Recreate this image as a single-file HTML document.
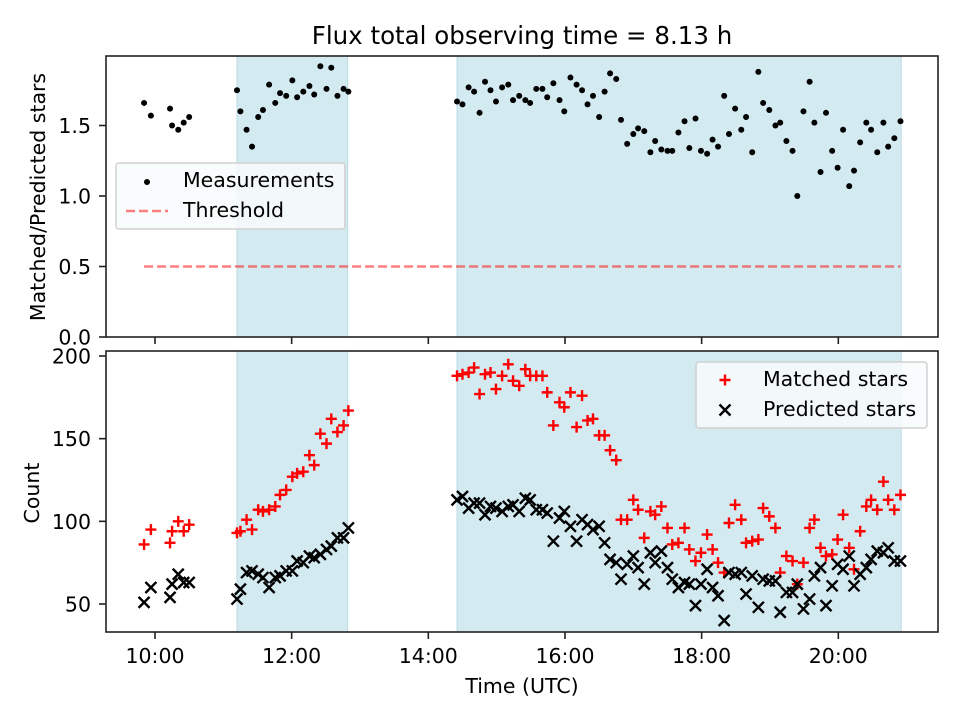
<!DOCTYPE html>
<html><head><meta charset="utf-8"><style>
body{margin:0;background:#fff}
svg text{font-family:"DejaVu Sans","Liberation Sans",sans-serif;fill:#000}
</style></head><body>
<svg id="chart" width="960" height="720" viewBox="0 0 960 720"></svg>
<script>
const times1=[9.84,9.94,10.22,10.25,10.34,10.42,10.50,
11.20,11.25,11.34,11.42,11.51,11.58,11.67,11.76,11.83,11.92,12.01,12.08,12.17,12.26,12.33,12.42,12.51,12.58,12.67,12.76,12.83,
14.42,14.50,14.59,14.67,14.75,14.83,14.91,14.99,15.08,15.17,15.24,15.33,15.42,15.49,15.58,15.67,15.74,15.83,15.92,15.99,
16.08,16.17,16.25,16.33,16.41,16.50,16.58,16.66,16.75,16.82,16.91,17.00,17.07,17.16,17.25,17.32,17.41,17.50,17.57,17.66,
17.75,17.82,17.91,17.99,18.08,18.16,18.24,18.33,18.40,18.49,18.58,18.65,18.74,18.83,18.90,18.99,19.08,19.15,19.24,19.33,
19.40,19.49,19.58,19.65,19.74,19.82,19.91,19.99,20.07,20.16,20.23,20.32,20.41,20.48,20.57,20.66,20.73,20.82,20.91];
const ratioValues=[1.66,1.57,1.62,1.50,1.47,1.52,1.56,
1.75,1.60,1.47,1.35,1.56,1.61,1.79,1.66,1.73,1.71,1.82,1.70,1.74,1.78,1.72,1.92,1.76,1.91,1.71,1.76,1.74,
1.67,1.65,1.77,1.74,1.59,1.81,1.75,1.67,1.77,1.79,1.68,1.71,1.68,1.66,1.76,1.76,1.70,1.80,1.68,1.60,
1.84,1.79,1.75,1.65,1.71,1.56,1.74,1.87,1.83,1.54,1.37,1.44,1.48,1.46,1.31,1.39,1.33,1.32,1.32,1.45,
1.53,1.34,1.55,1.32,1.30,1.40,1.35,1.71,1.44,1.62,1.47,1.56,1.31,1.88,1.66,1.61,1.50,1.52,1.39,1.32,
1.00,1.60,1.81,1.52,1.17,1.59,1.32,1.20,1.47,1.07,1.18,1.38,1.52,1.47,1.31,1.52,1.35,1.41,1.53];
const matchedValues=[86,95,87,94,100,94,98,
93,94,101,95,107,106,107,109,116,119,127,129,130,140,134,153,147,162,154,158,167,
188,189,190,193,177,189,190,180,188,195,185,182,192,188,188,188,178,158,172,169,
178,157,176,161,162,152,152,143,137,101,101,113,107,90,106,104,109,96,86,87,
96,83,76,81,92,83,75,69,99,110,101,87,88,89,108,103,96,69,79,76,
62,75,96,101,84,79,80,89,104,84,71,94,109,113,107,124,113,107,116];
const predictedValues=[51,60,54,62,68,63,63,
53,59,69,70,68,66,60,66,67,70,70,76,75,79,78,80,83,85,90,90,96,
113,115,108,111,111,104,109,108,106,109,110,106,114,113,107,107,105,88,102,106,
97,88,101,98,95,97,87,77,75,65,74,79,72,62,81,75,82,72,65,60,
63,62,49,62,71,60,55,40,69,68,69,56,67,48,65,64,64,45,57,57,
62,47,53,67,72,49,61,74,71,79,61,68,72,77,82,81,84,76,76];
const shadeSpans=[[11.2,12.82],[14.42,20.92]];
const xTicks=[10,12,14,16,18,20];
const xTickLabels=["10:00","12:00","14:00","16:00","18:00","20:00"];
const topYTicks=[0,0.5,1.0,1.5];
const topYTickLabels=["0.0","0.5","1.0","1.5"];
const botYTicks=[50,100,150,200];
const botYTickLabels=["50","100","150","200"];
const thresholdValue=0.5;

const NS="http://www.w3.org/2000/svg";
const svg=document.getElementById('chart');
function mk(tag,attrs,parent){const e=document.createElementNS(NS,tag);for(const k in attrs)e.setAttribute(k,attrs[k]);(parent||svg).appendChild(e);return e;}
const L=106,R=938;
const xS=t=>155+(t-10)*68.33;
const yTop=v=>337-v*141;
const yBot=v=>604-(v-50)*1.6533;
const T1=56,B1=337,T2=351,B2=632;
const FS=20.5;

[[T1,B1],[T2,B2]].forEach(([t,b],pi)=>{
  shadeSpans.forEach((s,i)=>{
    const r=mk('rect',{x:xS(s[0]),y:t,width:xS(s[1])-xS(s[0]),height:b-t,fill:'#d4eaf1',stroke:'#bcdbe4','stroke-width':1});
    
    
  });
});
const th=mk('line',{x1:xS(times1[0]),x2:xS(times1[times1.length-1]),y1:yTop(thresholdValue),y2:yTop(thresholdValue),stroke:'#ff0000','stroke-opacity':0.5,'stroke-width':2.5,'stroke-dasharray':'9,4'});


times1.forEach((t,i)=>{
  const c=mk('circle',{cx:xS(t),cy:yTop(ratioValues[i]),r:3,fill:'#000'});
  
  
});
times1.forEach((t,i)=>{
  const x=xS(t),y=yBot(matchedValues[i]);
  const p=mk('path',{d:`M${x-5.5},${y}H${x+5.5}M${x},${y-5.5}V${y+5.5}`,stroke:'#ff0000','stroke-width':2.4,fill:'none'});
  
  
});
times1.forEach((t,i)=>{
  const x=xS(t),y=yBot(predictedValues[i]);
  const p=mk('path',{d:`M${x-5.5},${y-5.5}L${x+5.5},${y+5.5}M${x-5.5},${y+5.5}L${x+5.5},${y-5.5}`,stroke:'#000','stroke-width':2.4,fill:'none'});
  
  
});
[[T1,B1,'top'],[T2,B2,'bottom']].forEach(([t,b,n])=>{
  const f=mk('rect',{x:L,y:t,width:R-L,height:b-t,fill:'none',stroke:'#222','stroke-width':1.6});
  
  
  xTicks.forEach((v,i)=>{
    mk('line',{x1:xS(v),x2:xS(v),y1:b,y2:b+7,stroke:'#222','stroke-width':1.6});
    if(n==='bottom'){
      const tx=mk('text',{x:xS(v),y:b+31,'text-anchor':'middle','font-size':FS});
      tx.textContent=xTickLabels[i];
      
      
    }
  });
});
topYTicks.forEach((v,i)=>{
  mk('line',{x1:L-7,x2:L,y1:yTop(v),y2:yTop(v),stroke:'#222','stroke-width':1.6});
  const tx=mk('text',{x:L-15,y:yTop(v)+7.5,'text-anchor':'end','font-size':FS});
  tx.textContent=topYTickLabels[i];
  
  
});
botYTicks.forEach((v,i)=>{
  mk('line',{x1:L-7,x2:L,y1:yBot(v),y2:yBot(v),stroke:'#222','stroke-width':1.6});
  const tx=mk('text',{x:L-15,y:yBot(v)+7.5,'text-anchor':'end','font-size':FS});
  tx.textContent=botYTickLabels[i];
  
  
});
</script>
<svg width="960" height="720" style="position:absolute;left:0;top:0">
<text x="522" y="44" text-anchor="middle" font-size="24.5">Flux total observing time = 8.13 h</text>
<text transform="translate(45,197) rotate(-90)" text-anchor="middle" font-size="20.5">Matched/Predicted stars</text>
<text transform="translate(39,493) rotate(-90)" text-anchor="middle" font-size="20.5">Count</text>
<text x="522" y="693" text-anchor="middle" font-size="20.5">Time (UTC)</text>
<g>
<rect x="116" y="163" width="229" height="66" rx="3" fill="#f8fbfd" fill-opacity="0.85" stroke="#d0d0d0" stroke-width="1.5"/>
<circle cx="147" cy="182" r="3" fill="#000"/>
<text x="183" y="187" font-size="20.5">Measurements</text>
<line x1="126" x2="168" y1="211" y2="211" stroke="#ff0000" stroke-opacity="0.5" stroke-width="2.5" stroke-dasharray="9,4"/>
<text x="183" y="217" font-size="20.5">Threshold</text>
</g>
<g>
<rect x="696" y="362" width="231" height="66" rx="3" fill="#f8fbfd" fill-opacity="0.85" stroke="#d0d0d0" stroke-width="1.5"/>
<path d="M719.5,380H730.5M725,374.5V385.5" stroke="#ff0000" stroke-width="2.4"/>
<text x="763" y="386" font-size="20.5">Matched stars</text>
<path d="M719.5,404.5L730.5,415.5M719.5,415.5L730.5,404.5" stroke="#000" stroke-width="2.4"/>
<text x="763" y="416" font-size="20.5">Predicted stars</text>
</g>
</svg>
</body></html>
